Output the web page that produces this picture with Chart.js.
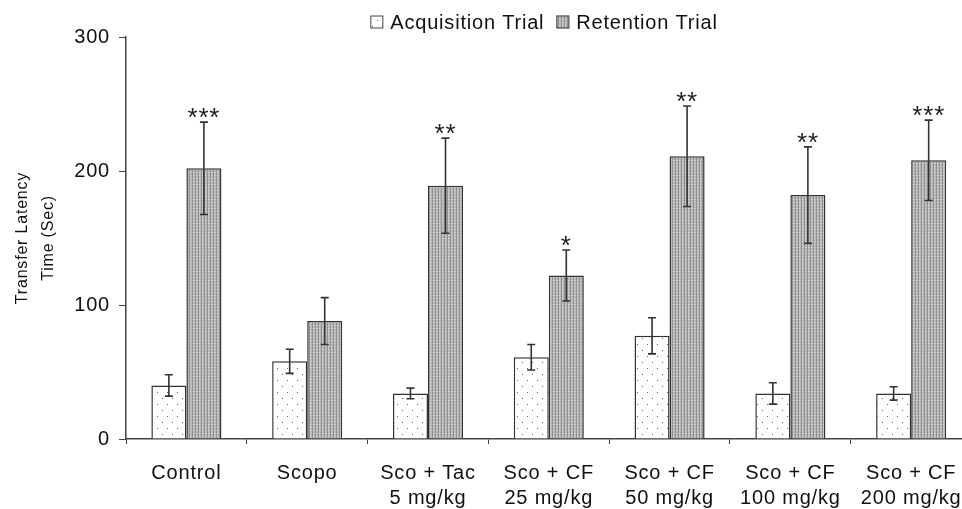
<!DOCTYPE html>
<html>
<head>
<meta charset="utf-8">
<script src="https://cdn.jsdelivr.net/npm/chart.js@4.4.0/dist/chart.umd.min.js"></script>
<style>
  html, body { margin: 0; padding: 0; background: #fff; overflow: hidden; }
  #wrap { width: 975px; height: 509px; }
</style>
</head>
<body>
<div id="wrap"><canvas id="chart" width="975" height="509"></canvas></div>
<script>
const categories = [
  "Control",
  "Scopo",
  ["Sco + Tac", "5 mg/kg"],
  ["Sco + CF", "25 mg/kg"],
  ["Sco + CF", "50 mg/kg"],
  ["Sco + CF", "100 mg/kg"],
  ["Sco + CF", "200 mg/kg"]
];
const acquisition = [40, 58, 34, 61, 77, 34, 34];
const acquisitionErr = [8, 9, 4, 9.5, 13.5, 8, 5];
const retention = [202, 88, 189, 122, 211, 182, 208];
const retentionErr = [34.5, 17.5, 35.5, 19, 37.5, 36, 30];
const stars = ["***", "", "**", "*", "**", "**", "***"];
const yTicks = [0, 100, 200, 300];

const font = "'Liberation Sans', Arial, sans-serif";

// fill patterns
function dotPattern() {
  const c = document.createElement("canvas");
  c.width = 10; c.height = 12;
  const g = c.getContext("2d");
  g.fillStyle = "#fff";
  g.fillRect(0, 0, 10, 12);
  g.fillStyle = "#666";
  g.fillRect(2, 2, 1, 1);
  g.fillRect(7, 8, 1, 1);
  return g.createPattern(c, "repeat");
}
function densePattern() {
  const c = document.createElement("canvas");
  c.width = 3; c.height = 3;
  const g = c.getContext("2d");
  g.fillStyle = "#b8b8b8";
  g.fillRect(0, 0, 3, 3);
  g.fillStyle = "#909090";
  g.fillRect(0, 0, 1, 3);
  g.fillStyle = "#e0e0e0";
  g.fillRect(1, 1, 1, 1);
  return g.createPattern(c, "repeat");
}

const spacing = {
  id: "spacing",
  beforeInit(chart) { chart.ctx.letterSpacing = "0.8px"; },
  beforeDraw(chart) { chart.ctx.letterSpacing = "0.8px"; }
};

const legendBox = {
  id: "legendBox",
  afterDraw(chart) {
    const ctx = chart.ctx;
    ctx.save();
    ctx.font = "20px " + font;
    ctx.textBaseline = "middle";
    ctx.textAlign = "left";
    const items = chart.data.datasets.map(d => ({ text: d.label, fill: d.backgroundColor }));
    const box = 13, gap = 7, between = 12;
    const widths = items.map(it => box + gap + ctx.measureText(it.text).width);
    const total = widths.reduce((a, b) => a + b, 0) + between * (items.length - 1);
    let x = 544 - total / 2;
    const y = 22;
    items.forEach((it, i) => {
      ctx.fillStyle = it.fill;
      ctx.fillRect(x, y - box / 2, box, box);
      ctx.strokeStyle = "#444";
      ctx.lineWidth = 1;
      ctx.strokeRect(x + 0.5, y - box / 2 + 0.5, box - 1, box - 1);
      ctx.fillStyle = "#111";
      ctx.fillText(it.text, x + box + gap, y + 1);
      x += widths[i] + between;
    });
    ctx.restore();
  }
};

const errorBars = {
  id: "errorBars",
  afterDatasetsDraw(chart) {
    const ctx = chart.ctx;
    const y = chart.scales.y;
    const errs = [acquisitionErr, retentionErr];
    ctx.save();
    ctx.strokeStyle = "#333";
    ctx.lineWidth = 1.6;
    chart.data.datasets.forEach((ds, di) => {
      chart.getDatasetMeta(di).data.forEach((bar, i) => {
        const v = ds.data[i], e = errs[di][i];
        const top = y.getPixelForValue(v + e);
        const bot = y.getPixelForValue(v - e);
        const x = bar.x;
        ctx.beginPath();
        ctx.moveTo(x, top); ctx.lineTo(x, bot);
        ctx.moveTo(x - 4, top); ctx.lineTo(x + 4, top);
        ctx.moveTo(x - 4, bot); ctx.lineTo(x + 4, bot);
        ctx.stroke();
        if (di === 1 && stars[i]) {
          ctx.fillStyle = "#222";
          ctx.font = "26px " + font;
          ctx.textAlign = "center";
          ctx.textBaseline = "alphabetic";
          ctx.fillText(stars[i], x, top + 4);
        }
      });
    });
    ctx.restore();
  }
};

new Chart(document.getElementById("chart"), {
  type: "bar",
  data: {
    labels: categories,
    datasets: [
      {
        label: "Acquisition Trial",
        data: acquisition,
        backgroundColor: dotPattern(),
        borderColor: "#333",
        borderWidth: 1.5,
        borderSkipped: "bottom"
      },
      {
        label: "Retention Trial",
        data: retention,
        backgroundColor: densePattern(),
        borderColor: "#333",
        borderWidth: 1.5,
        borderSkipped: "bottom"
      }
    ]
  },
  options: {
    responsive: false,
    animation: false,
    devicePixelRatio: 1,
    layout: { padding: { top: 37, right: 2, left: 0, bottom: 0 } },
    datasets: { bar: { categoryPercentage: 0.58, barPercentage: 1.0 } },
    plugins: {
      tooltip: { enabled: false },
      legend: { display: false }
    },
    scales: {
      x: {
        offset: true,
        grid: {
          offset: true,
          drawOnChartArea: false,
          drawTicks: true,
          tickLength: 5,
          color: "#444"
        },
        border: { color: "#444", width: 1.5 },
        ticks: {
          color: "#111",
          font: { family: font, size: 20, lineHeight: 1.25 },
          maxRotation: 0,
          autoSkip: false,
          padding: 17
        },
        afterFit(scale) { scale.height = 70; }
      },
      y: {
        min: 0,
        max: 300,
        afterBuildTicks(scale) { scale.ticks = yTicks.map(v => ({ value: v })); },
        grid: {
          drawOnChartArea: false,
          drawTicks: true,
          tickLength: 7,
          color: "#444"
        },
        border: { color: "#444", width: 1.5 },
        ticks: {
          color: "#111",
          font: { family: font, size: 20 },
          padding: 9
        },
        title: {
          display: true,
          text: ["Transfer Latency", "Time (Sec)"],
          color: "#111",
          font: { family: font, size: 16, lineHeight: 1.6 },
          padding: { top: 10, bottom: 0 }
        },
        afterFit(scale) { scale.width = 126; }
      }
    }
  },
  plugins: [spacing, legendBox, errorBars]
});
</script>
</body>
</html>
